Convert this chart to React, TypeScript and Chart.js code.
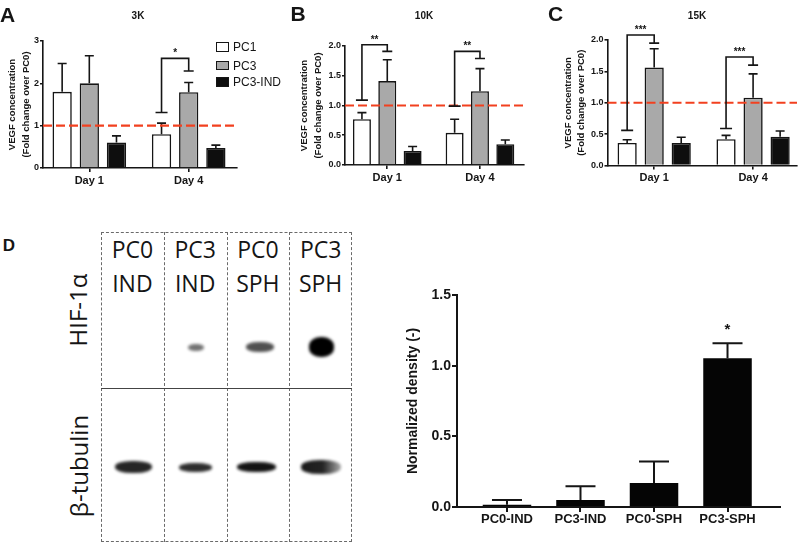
import React, { useEffect, useRef } from "react";
import { Chart, registerables } from "chart.js";

Chart.register(...registerables);

// ---------------- data ----------------
const DAYS = ["Day 1", "Day 4"];
const SERIES = ["PC1", "PC3", "PC3-IND"];
const REF_LEVEL = 1;

// Panel A – 3K
const k3PC1 = [1.8, 0.8];
const k3PC3 = [2.0, 1.79];
const k3IND = [0.6, 0.47];
const k3PC1Sd = [0.67, 0.26];
const k3PC3Sd = [0.65, 0.23];
const k3INDSd = [0.16, 0.07];
const k3Brackets = [{ day: 1, left: 1.31, top: 2.59, right: 2.29, label: "*" }];
const k3YTicks = [0, 1, 2, 3];

// Panel B – 10K
const k10PC1 = [0.77, 0.54];
const k10PC3 = [1.41, 1.24];
const k10IND = [0.235, 0.35];
const k10PC1Sd = [0.11, 0.23];
const k10PC3Sd = [0.36, 0.38];
const k10INDSd = [0.075, 0.07];
const k10Brackets = [
  { day: 0, left: 1.09, top: 2.02, right: 1.91, label: "**" },
  { day: 1, left: 0.99, top: 1.91, right: 1.79, label: "**" },
];
const k10YTicks = [0, 0.5, 1.0, 1.5, 2.0];

// Panel C – 15K
const k15PC1 = [0.36, 0.42];
const k15PC3 = [1.56, 1.08];
const k15IND = [0.36, 0.46];
const k15PC1Sd = [0.05, 0.06];
const k15PC3Sd = [0.3, 0.38];
const k15INDSd = [0.09, 0.09];
const k15Brackets = [
  { day: 0, left: 0.56, top: 2.08, right: 1.95, label: "***" },
  { day: 1, left: 0.59, top: 1.73, right: 1.6, label: "***" },
];
const k15YTicks = [0, 0.5, 1.0, 1.5, 2.0];

// Panel D – densitometry
const DENSITY_CATS = ["PC0-IND", "PC3-IND", "PC0-SPH", "PC3-SPH"];
const DENSITY = [0.016, 0.05, 0.17, 1.053];
const DENSITY_SD = [0.034, 0.096, 0.152, 0.106];
const DENSITY_SIG = ["", "", "", "*"];
const DENSITY_YTICKS = [0, 0.5, 1.0, 1.5];

// Panel D – blot labels
const LANES = [
  ["PC0", "IND"],
  ["PC3", "IND"],
  ["PC0", "SPH"],
  ["PC3", "SPH"],
];
const BLOT_ROWS = ["HIF-1α", "β-tubulin"];

// ---------------- style ----------------
const SANS = "'Liberation Sans', Arial, Helvetica, sans-serif";
const BLOT_SANS = "'Open Sans', 'DejaVu Sans', sans-serif";
const INK = "#151515";
const SERIES_COLORS = ["#ffffff", "#a9a9a9", "#0e0e0e"];

type Bracket = { day: number; left: number; top: number; right: number; label: string };

interface GroupSpec {
  values: number[][];
  sds: number[][];
  brackets: Bracket[];
  yTicks: number[];
  decimals: number;
  xMin: number;
  xMax: number;
  padLeft: number;
  padTop: number;
  padRight: number;
  yWidth: number;
  xHeight: number;
}

function groupedExtras(spec: GroupSpec) {
  return {
    id: "groupedExtras",
    afterDatasetsDraw(chart: any) {
      const ctx = chart.ctx as CanvasRenderingContext2D;
      const ys = chart.scales.y;
      const area = chart.chartArea;
      ctx.save();
      ctx.strokeStyle = INK;
      ctx.lineWidth = 1.6;
      // error bars
      spec.values.forEach((vals, si) => {
        const meta = chart.getDatasetMeta(si);
        vals.forEach((v, i) => {
          const bar = meta.data[i];
          const yTop = ys.getPixelForValue(v + spec.sds[si][i]);
          ctx.beginPath();
          ctx.moveTo(bar.x, bar.y);
          ctx.lineTo(bar.x, yTop);
          ctx.moveTo(bar.x - 4.5, yTop);
          ctx.lineTo(bar.x + 4.5, yTop);
          ctx.stroke();
        });
      });
      // reference line
      const yRef = ys.getPixelForValue(REF_LEVEL);
      ctx.save();
      ctx.strokeStyle = "#f2401f";
      ctx.lineWidth = 2.2;
      ctx.setLineDash([9, 4]);
      ctx.beginPath();
      ctx.moveTo(area.left, yRef);
      ctx.lineTo(area.right, yRef);
      ctx.stroke();
      ctx.restore();
      // significance brackets
      spec.brackets.forEach((b) => {
        const xl = chart.getDatasetMeta(0).data[b.day].x;
        const xr = chart.getDatasetMeta(1).data[b.day].x;
        const yl = ys.getPixelForValue(b.left);
        const yt = ys.getPixelForValue(b.top);
        const yr = ys.getPixelForValue(b.right);
        ctx.beginPath();
        ctx.moveTo(xl - 6, yl);
        ctx.lineTo(xl + 6, yl);
        ctx.moveTo(xl, yl);
        ctx.lineTo(xl, yt);
        ctx.lineTo(xr, yt);
        ctx.lineTo(xr, yr);
        ctx.moveTo(xr - 5, yr);
        ctx.lineTo(xr + 5, yr);
        ctx.stroke();
        ctx.fillStyle = INK;
        ctx.font = `bold 10px ${SANS}`;
        ctx.textAlign = "center";
        ctx.textBaseline = "alphabetic";
        ctx.fillText(b.label, (xl + xr) / 2, yt - 2);
      });
      ctx.restore();
    },
  };
}

function makeGrouped(canvas: HTMLCanvasElement, spec: GroupSpec) {
  const axisLine = { display: true, color: INK, width: 1.6 };
  const tickMarks = {
    display: true,
    drawOnChartArea: false,
    drawTicks: true,
    tickLength: 3,
    color: INK,
    lineWidth: 1.6,
    offset: false,
  };
  return new Chart(canvas, {
    type: "bar",
    data: {
      datasets: SERIES.map((name, si) => ({
        label: name,
        data: spec.values[si].map((v, i) => ({ x: i, y: v })),
        backgroundColor: SERIES_COLORS[si],
        borderColor: INK,
        borderWidth: 1.6,
        categoryPercentage: 0.82,
        barPercentage: 0.71,
      })),
    } as any,
    options: {
      responsive: false,
      animation: false,
      events: [],
      layout: { padding: { left: spec.padLeft, top: spec.padTop, right: spec.padRight, bottom: 0 } },
      plugins: { legend: { display: false }, tooltip: { enabled: false } },
      scales: {
        x: {
          type: "linear",
          offset: false,
          bounds: "data",
          min: spec.xMin,
          max: spec.xMax,
          afterBuildTicks: (s: any) => {
            s.ticks = DAYS.map((_, i) => ({ value: i }));
          },
          afterFit: (s: any) => {
            s.height = spec.xHeight;
          },
          ticks: {
            autoSkip: false,
            maxRotation: 0,
            padding: 2,
            color: INK,
            font: { family: SANS, size: 11, weight: "bold" },
            callback: (v: any) => DAYS[Math.round(Number(v))] ?? "",
          },
          grid: { ...tickMarks, tickLength: 4 },
          border: axisLine,
        },
        y: {
          min: 0,
          max: spec.yTicks[spec.yTicks.length - 1],
          afterBuildTicks: (s: any) => {
            s.ticks = spec.yTicks.map((v) => ({ value: v }));
          },
          afterFit: (s: any) => {
            s.width = spec.yWidth;
          },
          ticks: {
            padding: 1,
            color: INK,
            font: { family: SANS, size: 9, weight: "bold" },
            callback: (v: any) => Number(v).toFixed(spec.decimals),
          },
          grid: tickMarks,
          border: axisLine,
          title: {
            display: true,
            text: ["VEGF concentration", "(Fold change over PC0)"],
            color: INK,
            font: { family: SANS, size: 9.5, weight: "bold", lineHeight: 1.42 },
            padding: { top: 0, bottom: 0 },
          },
        },
      },
    } as any,
    plugins: [groupedExtras(spec) as any],
  });
}

const densityExtras = {
  id: "densityExtras",
  afterDatasetsDraw(chart: any) {
    const ctx = chart.ctx as CanvasRenderingContext2D;
    const ys = chart.scales.y;
    const meta = chart.getDatasetMeta(0);
    ctx.save();
    ctx.strokeStyle = INK;
    ctx.lineWidth = 2;
    DENSITY.forEach((v, i) => {
      const bar = meta.data[i];
      const yTop = ys.getPixelForValue(v + DENSITY_SD[i]);
      ctx.beginPath();
      ctx.moveTo(bar.x, bar.y);
      ctx.lineTo(bar.x, yTop);
      ctx.moveTo(bar.x - 15, yTop);
      ctx.lineTo(bar.x + 15, yTop);
      ctx.stroke();
      if (DENSITY_SIG[i]) {
        ctx.fillStyle = INK;
        ctx.font = `bold 15px ${SANS}`;
        ctx.textAlign = "center";
        ctx.textBaseline = "alphabetic";
        ctx.fillText(DENSITY_SIG[i], bar.x, yTop - 9);
      }
    });
    ctx.restore();
  },
};

function makeDensity(canvas: HTMLCanvasElement) {
  const axisLine = { display: true, color: INK, width: 2 };
  const tickMarks = {
    display: true,
    drawOnChartArea: false,
    drawTicks: true,
    tickLength: 5,
    color: INK,
    lineWidth: 2,
    offset: false,
  };
  return new Chart(canvas, {
    type: "bar",
    data: {
      datasets: [
        {
          label: "Normalized density",
          data: DENSITY.map((v, i) => ({ x: i, y: v })),
          backgroundColor: "#050505",
          borderWidth: 0,
          categoryPercentage: 1,
          barPercentage: 0.66,
        },
      ],
    } as any,
    options: {
      responsive: false,
      animation: false,
      events: [],
      layout: { padding: { left: 25, top: 25, right: 20, bottom: 0 } },
      plugins: { legend: { display: false }, tooltip: { enabled: false } },
      scales: {
        x: {
          type: "linear",
          offset: false,
          bounds: "data",
          min: -0.68,
          max: 3.714,
          afterBuildTicks: (s: any) => {
            s.ticks = DENSITY_CATS.map((_, i) => ({ value: i }));
          },
          afterFit: (s: any) => {
            s.height = 38;
          },
          ticks: {
            autoSkip: false,
            maxRotation: 0,
            padding: 0,
            color: INK,
            font: { family: SANS, size: 13, weight: "bold" },
            callback: (v: any) => DENSITY_CATS[Math.round(Number(v))] ?? "",
          },
          grid: tickMarks,
          border: axisLine,
        },
        y: {
          min: 0,
          max: DENSITY_YTICKS[DENSITY_YTICKS.length - 1],
          afterBuildTicks: (s: any) => {
            s.ticks = DENSITY_YTICKS.map((v) => ({ value: v }));
          },
          afterFit: (s: any) => {
            s.width = 52;
          },
          ticks: {
            padding: 1,
            color: INK,
            font: { family: SANS, size: 14, weight: "bold" },
            callback: (v: any) => Number(v).toFixed(1),
          },
          grid: tickMarks,
          border: axisLine,
          title: {
            display: true,
            text: "Normalized density (-)",
            color: INK,
            font: { family: SANS, size: 14, weight: "bold", lineHeight: 1.2 },
            padding: { top: 0, bottom: 0 },
          },
        },
      },
    } as any,
    plugins: [densityExtras as any],
  });
}

// ---------------- components ----------------
function ChartBox(props: {
  left: number;
  top: number;
  width: number;
  height: number;
  make: (c: HTMLCanvasElement) => Chart;
}) {
  const ref = useRef<HTMLCanvasElement>(null);
  useEffect(() => {
    const chart = props.make(ref.current as HTMLCanvasElement);
    return () => chart.destroy();
  }, []);
  return (
    <div style={{ position: "absolute", left: props.left, top: props.top, width: props.width, height: props.height }}>
      <canvas ref={ref} width={props.width} height={props.height} style={{ display: "block", width: props.width, height: props.height }} />
    </div>
  );
}

function Label(props: {
  x: number;
  y: number;
  text: string;
  size: number;
  weight?: number;
  family?: string;
  rotate?: number;
  anchor?: "center" | "left";
}) {
  const tx = props.anchor === "left" ? "0" : "-50%";
  return (
    <div
      style={{
        position: "absolute",
        left: props.x,
        top: props.y,
        fontFamily: props.family ?? SANS,
        fontSize: props.size,
        fontWeight: props.weight ?? 400,
        lineHeight: 1,
        whiteSpace: "nowrap",
        color: INK,
        transform: `translate(${tx}, -50%) rotate(${props.rotate ?? 0}deg)`,
      }}
    >
      {props.text}
    </div>
  );
}

function Blot() {
  const boxLeft = 101;
  const boxTop = 232;
  const boxRight = 352;
  const boxBottom = 542;
  const laneW = (boxRight - boxLeft) / LANES.length;
  const dash = "1px dashed #6a6a6a";
  // band pictures (position / darkness of each band in the photo)
  const hifBands = [
    null,
    { x: 188, y: 343.5, w: 16, h: 7, o: 0.55 },
    { x: 246, y: 342, w: 28, h: 10, o: 0.68 },
    { x: 309, y: 337, w: 25, h: 20, o: 1 },
  ];
  const tubBands = [
    { x: 115, y: 461, w: 37, h: 12, o: 0.85 },
    { x: 179, y: 463, w: 33, h: 9, o: 0.82 },
    { x: 237, y: 462, w: 39, h: 10, o: 0.92 },
    { x: 301, y: 460, w: 40, h: 14, o: 0.95 },
  ];
  const band = (b: any, key: string, grad?: boolean) =>
    b ? (
      <div
        key={key}
        style={{
          position: "absolute",
          left: b.x,
          top: b.y,
          width: b.w,
          height: b.h,
          borderRadius: "45%",
          background: grad
            ? "linear-gradient(to right, rgba(0,0,0,0.95), rgba(0,0,0,0.9) 55%, rgba(0,0,0,0.35))"
            : "#000",
          opacity: b.o,
          filter: "blur(1.4px)",
        }}
      />
    ) : null;
  return (
    <>
      <div
        style={{
          position: "absolute",
          left: boxLeft,
          top: boxTop,
          width: boxRight - boxLeft,
          height: boxBottom - boxTop,
          border: dash,
          boxSizing: "border-box",
        }}
      />
      {[1, 2, 3].map((i) => (
        <div
          key={"d" + i}
          style={{
            position: "absolute",
            left: boxLeft + laneW * i,
            top: boxTop,
            width: 0,
            height: boxBottom - boxTop,
            borderLeft: dash,
          }}
        />
      ))}
      <div style={{ position: "absolute", left: boxLeft, top: 388, width: boxRight - boxLeft, height: 1, background: "#444" }} />
      {LANES.map((lines, i) =>
        lines.map((t, j) => (
          <Label
            key={`l${i}${j}`}
            x={boxLeft + laneW * (i + 0.5)}
            y={249 + j * 34}
            text={t}
            size={23}
            family={BLOT_SANS}
          />
        ))
      )}
      <Label x={78} y={310} text={BLOT_ROWS[0]} size={24} family={BLOT_SANS} rotate={-90} />
      <Label x={79} y={466} text={BLOT_ROWS[1]} size={24} family={BLOT_SANS} rotate={-90} />
      {hifBands.map((b, i) => band(b, "h" + i))}
      {tubBands.map((b, i) => band(b, "t" + i, i === 3))}
    </>
  );
}

const specA: GroupSpec = {
  values: [k3PC1, k3PC3, k3IND],
  sds: [k3PC1Sd, k3PC3Sd, k3INDSd],
  brackets: k3Brackets,
  yTicks: k3YTicks,
  decimals: 0,
  xMin: -0.466,
  xMax: 1.486,
  padLeft: 6,
  padTop: 41,
  padRight: 28,
  yWidth: 37,
  xHeight: 27,
};
const specB: GroupSpec = {
  values: [k10PC1, k10PC3, k10IND],
  sds: [k10PC1Sd, k10PC3Sd, k10INDSd],
  brackets: k10Brackets,
  yTicks: k10YTicks,
  decimals: 1,
  xMin: -0.456,
  xMax: 1.475,
  padLeft: 33,
  padTop: 46,
  padRight: 6,
  yWidth: 47,
  xHeight: 30,
};
const specC: GroupSpec = {
  values: [k15PC1, k15PC3, k15IND],
  sds: [k15PC1Sd, k15PC3Sd, k15INDSd],
  brackets: k15Brackets,
  yTicks: k15YTicks,
  decimals: 1,
  xMin: -0.472,
  xMax: 1.444,
  padLeft: 31.5,
  padTop: 40,
  padRight: 3,
  yWidth: 46,
  xHeight: 29.5,
};

export default function App() {
  const legendRows = [47, 65.5, 82];
  return (
    <div
      style={{
        position: "fixed",
        left: 0,
        top: 0,
        width: 800,
        height: 545,
        background: "#fff",
        overflow: "hidden",
      }}
    >
      <ChartBox left={0} top={0} width={265} height={195} make={(c) => makeGrouped(c, specA)} />
      <ChartBox left={265} top={0} width={265} height={195} make={(c) => makeGrouped(c, specB)} />
      <ChartBox left={530} top={0} width={270} height={195} make={(c) => makeGrouped(c, specC)} />
      <ChartBox left={380} top={270} width={420} height={275} make={makeDensity} />

      <Label x={7.5} y={13.5} text="A" size={21} weight={700} />
      <Label x={298} y={12.5} text="B" size={21} weight={700} />
      <Label x={555.5} y={12.5} text="C" size={21} weight={700} />
      <Label x={9} y={244.5} text="D" size={17} weight={700} />

      <Label x={138} y={15.5} text="3K" size={10} weight={700} />
      <Label x={424} y={15.5} text="10K" size={10} weight={700} />
      <Label x={697} y={16} text="15K" size={10} weight={700} />

      {SERIES.map((name, i) => (
        <React.Fragment key={name}>
          <div
            style={{
              position: "absolute",
              left: 215.5,
              top: legendRows[i] - 4.7,
              width: 13,
              height: 9.4,
              boxSizing: "border-box",
              border: `1.6px solid ${INK}`,
              background: SERIES_COLORS[i],
            }}
          />
          <Label x={233} y={legendRows[i]} text={name} size={12} anchor="left" />
        </React.Fragment>
      ))}

      <Blot />
    </div>
  );
}
